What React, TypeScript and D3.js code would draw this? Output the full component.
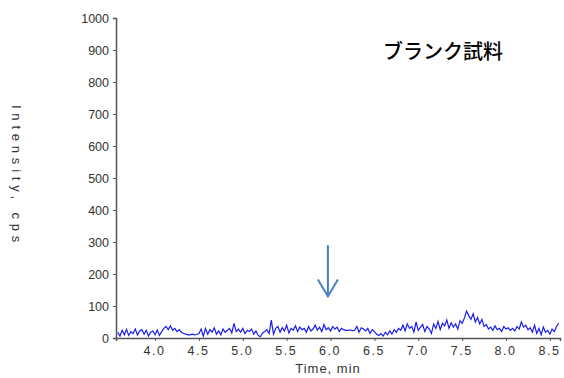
import React, { useEffect, useRef } from "react";
import * as d3 from "d3";

// retention time axis (min), sampled every 0.025 min from 3.575
const startTime = 3.575;
const stepTime = 0.025;
const intensity = [
  18, 6, 24, 10, 27, 8, 20, 14, 28, 9,
  22, 26, 12, 24, 6, 18, 22, 10, 25, 8,
  20, 30, 36, 26, 38, 24, 30, 20, 26, 18,
  14, 12, 10, 10, 12, 10, 11, 14, 28, 6,
  30, 12, 26, 18, 32, 12, 22, 10, 28, 18,
  24, 30, 16, 46, 20, 28, 18, 30, 14, 24,
  20, 28, 12, 22, 8, 4, 16, 20, 26, 14,
  56, 12, 30, 36, 18, 32, 22, 40, 16, 30,
  24, 38, 20, 34, 26, 30, 18, 36, 22, 28,
  40, 24, 34, 20, 42, 26, 32, 22, 36, 28,
  34, 20, 30, 26, 24, 24, 25, 23, 24, 36,
  18, 32, 28, 22, 30, 14, 26, 20, 12, 8,
  14, 6, 18, 10, 22, 12, 26, 18, 30, 24,
  40, 22, 44, 30, 36, 18, 50, 24, 34, 42,
  20, 36, 28, 14, 44, 30, 52, 26, 46, 38,
  56, 30, 48, 34, 44, 28, 54, 46, 62, 84,
  70, 58, 76, 50, 64, 44, 58, 36, 42, 28,
  34, 24, 38, 26, 30, 20, 36, 28, 32, 24,
  30, 22, 36, 28, 50, 34, 40, 26, 32, 18,
  40, 14, 30, 10, 34, 18, 24, 12, 28, 20,
  36, 46,
];
const xTicks = [4.0, 4.5, 5.0, 5.5, 6.0, 6.5, 7.0, 7.5, 8.0, 8.5];
const yTicks = [0, 100, 200, 300, 400, 500, 600, 700, 800, 900, 1000];
const title = "ブランク試料";
// arrow marking the expected retention time
const arrowTime = 5.97;
const arrowFrom = 290;
const arrowTo = 130;

const W = 564;
const H = 378;

const App = () => {
  const ref = useRef(null);

  useEffect(() => {
    const svg = d3.select(ref.current);
    svg.selectAll("*").remove();

    const x = d3.scaleLinear().domain([3.555, 8.615]).range([116, 560]);
    const y = d3.scaleLinear().domain([0, 1000]).range([338, 18]);
    const font = "Liberation Sans, Arial, sans-serif";

    // y axis
    const yAxis = svg
      .append("g")
      .attr("transform", "translate(116,0)")
      .call(
        d3
          .axisLeft(y)
          .tickValues(yTicks)
          .tickFormat(d3.format("d"))
          .tickSize(3)
          .tickPadding(4)
      );
    yAxis.select(".domain").attr("stroke", "#555").attr("stroke-width", 1.5);
    yAxis.selectAll(".tick line").attr("stroke", "#555");
    yAxis
      .selectAll(".tick text")
      .attr("fill", "#333")
      .style("font-family", font)
      .style("font-size", "12.5px");

    // x axis
    const xAxis = svg
      .append("g")
      .attr("transform", "translate(0,338)")
      .call(
        d3
          .axisBottom(x)
          .tickValues(xTicks)
          .tickFormat(d3.format(".1f"))
          .tickSize(3)
          .tickPadding(5)
      );
    xAxis.select(".domain").attr("stroke", "#555").attr("stroke-width", 1.5);
    xAxis.selectAll(".tick line").attr("stroke", "#555");
    xAxis
      .selectAll(".tick text")
      .attr("fill", "#333")
      .attr("dx", "-1")
      .style("font-family", font)
      .style("font-size", "12.5px")
      .style("letter-spacing", "1.5px");

    // trace
    const line = d3
      .line()
      .x((d, i) => x(startTime + i * stepTime))
      .y(d => y(d));
    svg
      .append("path")
      .datum(intensity)
      .attr("d", line)
      .attr("fill", "none")
      .attr("stroke", "#1c1cf0")
      .attr("stroke-width", 1.2);

    // axis titles
    svg
      .append("text")
      .attr("transform", "translate(12,176) rotate(90)")
      .attr("text-anchor", "middle")
      .attr("fill", "#333")
      .style("font-family", font)
      .style("font-size", "13px")
      .style("letter-spacing", "4.8px")
      .text("Intensity, cps");

    svg
      .append("text")
      .attr("x", 328)
      .attr("y", 373)
      .attr("text-anchor", "middle")
      .attr("fill", "#333")
      .style("font-family", font)
      .style("font-size", "13px")
      .style("letter-spacing", "1px")
      .text("Time, min");

    // sample label
    svg
      .append("text")
      .attr("x", 443)
      .attr("y", 59)
      .attr("text-anchor", "middle")
      .attr("fill", "#000")
      .style("font-family", "Noto Sans CJK JP")
      .style("font-weight", 500)
      .style("font-size", "20px")
      .text(title);

    // arrow
    const ax = x(arrowTime);
    const arrow = svg
      .append("g")
      .attr("stroke", "#4a7ebb")
      .attr("stroke-width", 2)
      .attr("fill", "none");
    arrow
      .append("line")
      .attr("x1", ax)
      .attr("x2", ax)
      .attr("y1", y(arrowFrom))
      .attr("y2", y(arrowTo));
    arrow
      .append("path")
      .attr(
        "d",
        `M${ax - 10},${y(arrowTo) - 17}L${ax},${y(arrowTo)}L${ax + 10},${y(arrowTo) - 17}`
      );
  }, []);

  return (
    <div style={{ position: "absolute", left: 0, top: 0 }}>
      <svg ref={ref} width={W} height={H} style={{ background: "#fff", display: "block" }} />
    </div>
  );
};

export default App;
